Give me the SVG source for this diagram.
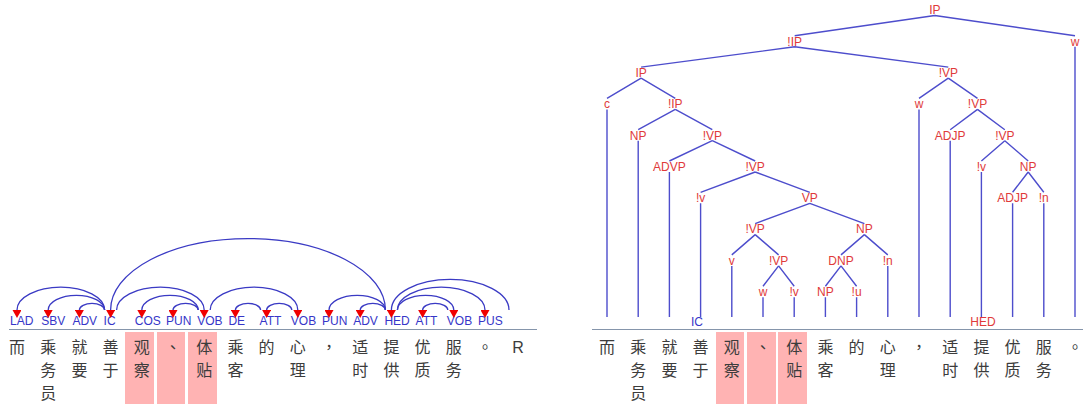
<svg xmlns="http://www.w3.org/2000/svg" width="1083" height="408" viewBox="0 0 1083 408">
<style>
.zh{font-family:"Noto Sans CJK SC","Noto Sans CJK TC",sans-serif;font-size:16px;fill:#3c3c3c;text-anchor:middle}
.pu{font-family:"Noto Sans CJK TC","Noto Sans CJK SC",sans-serif}
.lat{font-family:"Liberation Sans",Arial,sans-serif}
.dep{font-family:"Liberation Sans",Arial,sans-serif;font-size:12px;fill:#3636c8}
.arc{fill:none;stroke:#3a3ac4;stroke-width:1.3}
.hl{fill:#ffb3b3}
.base{stroke:#8595ab;stroke-width:1}
.tn{font-family:"Liberation Sans",Arial,sans-serif;font-size:12px;fill:#e03a3a;text-anchor:middle}
.tl{stroke:#4d4dcc;stroke-width:1.4;fill:none}
</style>
<defs>
<marker id="ah" markerUnits="userSpaceOnUse" markerWidth="8" markerHeight="9" viewBox="0 0 10 10" refX="0" refY="5" orient="auto" preserveAspectRatio="none">
<path d="M0,0 L10,5 L0,10 z" fill="#f00000"/>
</marker>
</defs>
<rect width="1083" height="408" fill="#ffffff"/>

<!-- highlights -->
<g id="highlights">
<rect class="hl" x="125" y="332" width="29" height="72"/>
<rect class="hl" x="157" y="332" width="28" height="72"/>
<rect class="hl" x="188" y="332" width="29" height="72"/>
<rect class="hl" x="716" y="332" width="28" height="72"/>
<rect class="hl" x="747" y="332" width="29" height="72"/>
<rect class="hl" x="778" y="332" width="29" height="72"/>
</g>
<line class="base" x1="9" y1="329.5" x2="537" y2="329.5"/>
<line class="base" x1="592" y1="329.5" x2="1083" y2="329.5"/>

<!-- dependency panel words -->
<g id="dep-words">
<g id="d0"><text class="dep" x="10" y="325">LAD</text><text class="zh" x="17" y="353">而</text></g>
<g id="d1"><text class="dep" x="41.2" y="325">SBV</text><text class="zh" x="48.2" y="353">乘</text><text class="zh" x="48.2" y="376">务</text><text class="zh" x="48.2" y="399">员</text></g>
<g id="d2"><text class="dep" x="72.4" y="325">ADV</text><text class="zh" x="79.4" y="353">就</text><text class="zh" x="79.4" y="376">要</text></g>
<g id="d3"><text class="dep" x="103.6" y="325">IC</text><text class="zh" x="110.6" y="353">善</text><text class="zh" x="110.6" y="376">于</text></g>
<g id="d4"><text class="dep" x="134.8" y="325">COS</text><text class="zh" x="141.8" y="353">观</text><text class="zh" x="141.8" y="376">察</text></g>
<g id="d5"><text class="dep" x="166" y="325">PUN</text><text class="zh pu" x="173" y="353">、</text></g>
<g id="d6"><text class="dep" x="197.2" y="325">VOB</text><text class="zh" x="204.2" y="353">体</text><text class="zh" x="204.2" y="376">贴</text></g>
<g id="d7"><text class="dep" x="228.4" y="325">DE</text><text class="zh" x="235.4" y="353">乘</text><text class="zh" x="235.4" y="376">客</text></g>
<g id="d8"><text class="dep" x="259.6" y="325">ATT</text><text class="zh" x="266.6" y="353">的</text></g>
<g id="d9"><text class="dep" x="290.8" y="325">VOB</text><text class="zh" x="297.8" y="353">心</text><text class="zh" x="297.8" y="376">理</text></g>
<g id="d10"><text class="dep" x="322" y="325">PUN</text><text class="zh pu" x="329" y="353">，</text></g>
<g id="d11"><text class="dep" x="353.2" y="325">ADV</text><text class="zh" x="360.2" y="353">适</text><text class="zh" x="360.2" y="376">时</text></g>
<g id="d12"><text class="dep" x="384.4" y="325">HED</text><text class="zh" x="391.4" y="353">提</text><text class="zh" x="391.4" y="376">供</text></g>
<g id="d13"><text class="dep" x="415.6" y="325">ATT</text><text class="zh" x="422.6" y="353">优</text><text class="zh" x="422.6" y="376">质</text></g>
<g id="d14"><text class="dep" x="446.8" y="325">VOB</text><text class="zh" x="453.8" y="353">服</text><text class="zh" x="453.8" y="376">务</text></g>
<g id="d15"><text class="dep" x="478" y="325">PUS</text><text class="zh pu" x="485" y="353">。</text></g>
<g id="dR"><text class="zh lat" x="518" y="353">R</text></g>
</g>

<g id="dep-arcs" marker-end="url(#ah)">
<path class="arc" d="M104.6,310 A43.8,22.8 0 0 0 17,310"/>
<path class="arc" d="M104.6,310 A28.2,14.7 0 0 0 48.2,310"/>
<path class="arc" d="M104.6,310 A12.6,6.6 0 0 0 79.4,310"/>
<path class="arc" d="M116.6,310 A43.8,22.8 0 0 1 204.2,310"/>
<path class="arc" d="M198.2,310 A28.2,14.7 0 0 0 141.8,310"/>
<path class="arc" d="M198.2,310 A12.6,6.6 0 0 0 173,310"/>
<path class="arc" d="M260.6,310 A12.6,6.6 0 0 0 235.4,310"/>
<path class="arc" d="M291.8,310 A12.6,6.6 0 0 0 266.6,310"/>
<path class="arc" d="M210.2,310 A43.8,22.8 0 0 1 297.8,310"/>
<path class="arc" d="M385.4,310 A28.2,14.7 0 0 0 329,310"/>
<path class="arc" d="M385.4,310 A12.6,6.6 0 0 0 360.2,310"/>
<path class="arc" d="M385.4,310 A137.4,71.4 0 0 0 110.6,310"/>
<path class="arc" d="M447.8,310 A12.6,6.6 0 0 0 422.6,310"/>
<path class="arc" d="M397.4,310 A28.2,14.7 0 0 1 453.8,310"/>
<path class="arc" d="M397.4,310 A43.8,22.8 0 0 1 485,310"/>
<path class="arc" d="M509,310 A58.8,30.6 0 0 0 391.4,310"/>
</g>

<!-- tree panel words -->
<g id="tree-words">
<g id="r0"><text class="zh" x="607" y="353">而</text></g>
<g id="r1"><text class="zh" x="638.2" y="353">乘</text><text class="zh" x="638.2" y="376">务</text><text class="zh" x="638.2" y="399">员</text></g>
<g id="r2"><text class="zh" x="669.4" y="353">就</text><text class="zh" x="669.4" y="376">要</text></g>
<g id="r3"><text class="dep" x="697" y="326" text-anchor="middle">IC</text><text class="zh" x="700.6" y="353">善</text><text class="zh" x="700.6" y="376">于</text></g>
<g id="r4"><text class="zh" x="731.8" y="353">观</text><text class="zh" x="731.8" y="376">察</text></g>
<g id="r5"><text class="zh pu" x="763" y="353">、</text></g>
<g id="r6"><text class="zh" x="794.2" y="353">体</text><text class="zh" x="794.2" y="376">贴</text></g>
<g id="r7"><text class="zh" x="825.4" y="353">乘</text><text class="zh" x="825.4" y="376">客</text></g>
<g id="r8"><text class="zh" x="856.6" y="353">的</text></g>
<g id="r9"><text class="zh" x="887.8" y="353">心</text><text class="zh" x="887.8" y="376">理</text></g>
<g id="r10"><text class="zh pu" x="919" y="353">，</text></g>
<g id="r11"><text class="zh" x="950.2" y="353">适</text><text class="zh" x="950.2" y="376">时</text></g>
<g id="r12"><text class="tn" x="983" y="326">HED</text><text class="zh" x="981.4" y="353">提</text><text class="zh" x="981.4" y="376">供</text></g>
<g id="r13"><text class="zh" x="1012.6" y="353">优</text><text class="zh" x="1012.6" y="376">质</text></g>
<g id="r14"><text class="zh" x="1043.8" y="353">服</text><text class="zh" x="1043.8" y="376">务</text></g>
<g id="r15"><text class="zh pu" x="1075" y="353">。</text></g>
</g>

<g id="tree-edges" class="tl">
<path class="tl" d="M934.8,15.5 L794.7,35.8 M934.8,15.5 L1075,35.8"/>
<path class="tl" d="M794.7,46.8 L641.1,67.1 M794.7,46.8 L948.3,67.1"/>
<path class="tl" d="M641.1,78.1 L607,98.4 M641.1,78.1 L675.3,98.4"/>
<path class="tl" d="M675.3,109.4 L638.2,129.7 M675.3,109.4 L712.3,129.7"/>
<path class="tl" d="M712.3,140.7 L669.4,161 M712.3,140.7 L755.2,161"/>
<path class="tl" d="M755.2,172 L700.6,192.3 M755.2,172 L809.8,192.3"/>
<path class="tl" d="M809.8,203.3 L755.2,223.6 M809.8,203.3 L864.4,223.6"/>
<path class="tl" d="M755.2,234.6 L731.8,254.9 M755.2,234.6 L778.6,254.9"/>
<path class="tl" d="M778.6,265.9 L763,286.2 M778.6,265.9 L794.2,286.2"/>
<path class="tl" d="M864.4,234.6 L841,254.9 M864.4,234.6 L887.8,254.9"/>
<path class="tl" d="M841,265.9 L825.4,286.2 M841,265.9 L856.6,286.2"/>
<path class="tl" d="M948.3,78.1 L919,98.4 M948.3,78.1 L977.5,98.4"/>
<path class="tl" d="M977.5,109.4 L950.2,129.7 M977.5,109.4 L1004.8,129.7"/>
<path class="tl" d="M1004.8,140.7 L981.4,161 M1004.8,140.7 L1028.2,161"/>
<path class="tl" d="M1028.2,172 L1012.6,192.3 M1028.2,172 L1043.8,192.3"/>
<path class="tl" d="M607,109.4 V317 M638.2,140.7 V317 M669.4,172 V317 M700.6,203.3 V317 M731.8,265.9 V317 M763,297.2 V317 M794.2,297.2 V317 M825.4,297.2 V317 M856.6,297.2 V317 M887.8,265.9 V317 M919,109.4 V317 M950.2,140.7 V317 M981.4,172 V317 M1012.6,203.3 V317 M1043.8,203.3 V317 M1075,46.8 V317"/>
</g>

<g id="tree-nodes">
<g id="n-IP"><text class="tn" x="934.8" y="14.3">IP</text></g>
<g id="n-xIP1"><text class="tn" x="794.7" y="45.6">!IP</text></g>
<g id="n-w15"><text class="tn" x="1075" y="45.6">w</text></g>
<g id="n-IP2"><text class="tn" x="641.1" y="76.9">IP</text></g>
<g id="n-xVP2"><text class="tn" x="948.3" y="76.9">!VP</text></g>
<g id="n-c"><text class="tn" x="607" y="108.2">c</text></g>
<g id="n-xIP3"><text class="tn" x="675.3" y="108.2">!IP</text></g>
<g id="n-w10"><text class="tn" x="919" y="108.2">w</text></g>
<g id="n-xVP3"><text class="tn" x="977.5" y="108.2">!VP</text></g>
<g id="n-NP4"><text class="tn" x="638.2" y="139.5">NP</text></g>
<g id="n-xVP4"><text class="tn" x="712.3" y="139.5">!VP</text></g>
<g id="n-ADJP4"><text class="tn" x="950.2" y="139.5">ADJP</text></g>
<g id="n-xVP4b"><text class="tn" x="1004.8" y="139.5">!VP</text></g>
<g id="n-ADVP"><text class="tn" x="669.4" y="170.8">ADVP</text></g>
<g id="n-xVP5"><text class="tn" x="755.2" y="170.8">!VP</text></g>
<g id="n-xv5"><text class="tn" x="981.4" y="170.8">!v</text></g>
<g id="n-NP5"><text class="tn" x="1028.2" y="170.8">NP</text></g>
<g id="n-xv6"><text class="tn" x="700.6" y="202.1">!v</text></g>
<g id="n-VP"><text class="tn" x="809.8" y="202.1">VP</text></g>
<g id="n-ADJP6"><text class="tn" x="1012.6" y="202.1">ADJP</text></g>
<g id="n-xn6"><text class="tn" x="1043.8" y="202.1">!n</text></g>
<g id="n-xVP7"><text class="tn" x="755.2" y="233.4">!VP</text></g>
<g id="n-NP7"><text class="tn" x="864.4" y="233.4">NP</text></g>
<g id="n-v"><text class="tn" x="731.8" y="264.7">v</text></g>
<g id="n-xVP8"><text class="tn" x="778.6" y="264.7">!VP</text></g>
<g id="n-DNP"><text class="tn" x="841" y="264.7">DNP</text></g>
<g id="n-xn8"><text class="tn" x="887.8" y="264.7">!n</text></g>
<g id="n-w5"><text class="tn" x="763" y="296">w</text></g>
<g id="n-xv9"><text class="tn" x="794.2" y="296">!v</text></g>
<g id="n-NP9"><text class="tn" x="825.4" y="296">NP</text></g>
<g id="n-xu"><text class="tn" x="856.6" y="296">!u</text></g>
</g>
</svg>
